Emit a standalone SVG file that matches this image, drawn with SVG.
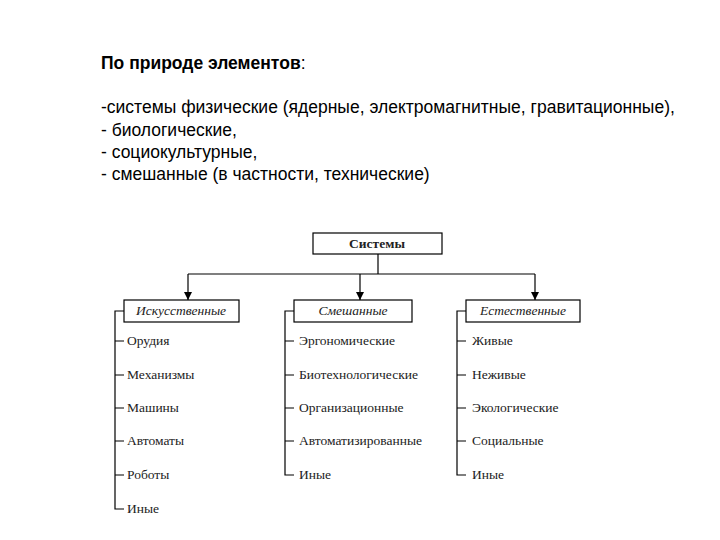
<svg xmlns="http://www.w3.org/2000/svg" width="720" height="540" viewBox="0 0 720 540">
<style>
.h{font-family:"Liberation Sans",Arial,sans-serif;font-size:17.5px;fill:#000}
.b{fill:#fff;stroke:#000;stroke-width:1.2}
.t{font-family:"Liberation Serif","Times New Roman",serif;font-size:13.5px;fill:#222}
.i{font-style:italic;text-anchor:middle}
.l{stroke:#000;stroke-width:1.2;fill:none}
</style>
<defs><marker id="a" viewBox="0 0 10 10" refX="10" refY="5" markerWidth="7" markerHeight="8" orient="auto"><path d="M0,0L10,5L0,10z" fill="#000"/></marker></defs>
<rect width="720" height="540" fill="#fff"/>
<text class="h" x="101" y="69" font-weight="bold">По природе элементов<tspan font-weight="normal">:</tspan></text>
<text class="h" x="101" y="113">-системы физические (ядерные, электромагнитные, гравитационные),</text>
<text class="h" x="101" y="136">- биологические,</text>
<text class="h" x="101" y="158">- социокультурные,</text>
<text class="h" x="101" y="180">- смешанные (в частности, технические)</text>
<g id="connectors">
<path class="l" d="M378,254V274M188,274H535"/>
<path class="l" d="M188,274V300" marker-end="url(#a)"/>
<path class="l" d="M360,274V300" marker-end="url(#a)"/>
<path class="l" d="M535,274V300" marker-end="url(#a)"/>
<path class="l" d="M124,311H115V509H124M115,341H124M115,375H124M115,408H124M115,441H124M115,475H124"/>
<path class="l" d="M294,311H285V475H294M285,341H294M285,375H294M285,408H294M285,441H294"/>
<path class="l" d="M466,311H457V475H466M457,341H466M457,375H466M457,408H466M457,441H466"/>
</g>
<g id="n0"><rect class="b" x="313" y="233" width="129" height="21"/><text class="t" x="377" y="248" text-anchor="middle" font-weight="bold">Системы</text></g>
<g id="n1"><rect class="b" x="124" y="300" width="115" height="22"/><text class="t i" x="181" y="315">Искусственные</text></g>
<g id="n2"><rect class="b" x="294" y="300" width="118" height="22"/><text class="t i" x="353" y="315">Смешанные</text></g>
<g id="n3"><rect class="b" x="466" y="300" width="114" height="22"/><text class="t i" x="523" y="315">Естественные</text></g>
<g id="left" class="t">
<text x="127" y="345">Орудия</text><text x="127" y="379">Механизмы</text><text x="127" y="412">Машины</text><text x="127" y="445">Автоматы</text><text x="127" y="479">Роботы</text><text x="127" y="513">Иные</text>
</g>
<g id="mid" class="t">
<text x="299" y="345">Эргономические</text><text x="299" y="379">Биотехнологические</text><text x="299" y="412">Организационные</text><text x="299" y="445">Автоматизированные</text><text x="299" y="479">Иные</text>
</g>
<g id="right" class="t">
<text x="472" y="345">Живые</text><text x="472" y="379">Неживые</text><text x="472" y="412">Экологические</text><text x="472" y="445">Социальные</text><text x="472" y="479">Иные</text>
</g>
</svg>
